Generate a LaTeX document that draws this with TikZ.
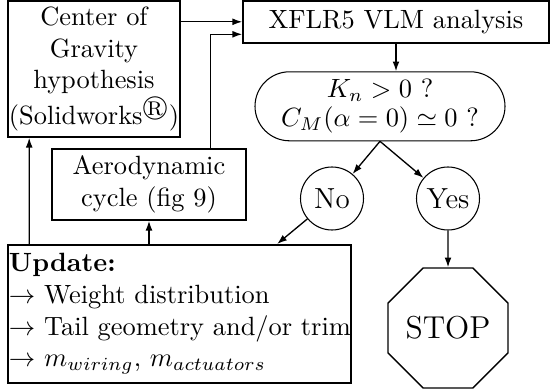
\documentclass[tikz,border=0pt]{standalone}
\usepackage{amssymb}
\usetikzlibrary{shapes.misc,shapes.geometric,arrows.meta,calc}
\newcommand{\pxl}{0.3788pt}
\begin{document}
\begin{tikzpicture}[x=0.3788pt,y=-0.3788pt,
 box/.style={draw,line width=0.6pt,align=center,inner sep=0pt},
 arr/.style={line width=0.5pt,-{Latex[length=3.7pt,width=2.6pt]}},
 ans/.style={draw,circle,line width=0.4pt,minimum size=63*\pxl,inner sep=0pt,font=\fontsize{11}{13}\selectfont}]
\useasboundingbox (0,0) rectangle (550,389);
\node[box,minimum width=172*\pxl,minimum height=136*\pxl] (cog) at (94,69) {Center of\\Gravity\\hypothesis\\(Solidworks$^{\circledR}$)};
\node[box,minimum width=306*\pxl,minimum height=42*\pxl] (xflr) at (396,21.8) {XFLR5 VLM analysis};
\node[box,minimum width=194*\pxl,minimum height=71*\pxl] (aero) at (149,184.5) {Aerodynamic\\cycle (fig 9)};
\node[draw,rounded rectangle,line width=0.4pt,minimum width=250*\pxl,minimum height=69*\pxl,align=center,inner sep=0pt] (dec) at (380,106.3) {$K_n>0$ ?\\[-1pt]$C_M(\alpha=0)\simeq 0$ ?};
\node[ans] (no) at (332,198.5) {No};
\node[ans] (yes) at (448,198.5) {Yes};
\node[draw,regular polygon,regular polygon sides=8,minimum size=110*\pxl,inner sep=0pt,line width=0.5pt,font=\large] (stop) at (448,328) {STOP};
\node[draw,line width=0.6pt,text width=129.2pt,inner xsep=0.38pt,minimum height=138*\pxl,align=left] (upd) at (179.5,314) {\textbf{Update:}\\\mbox{$\rightarrow$ Weight distribution}\\\mbox{$\rightarrow$ Tail geometry and/or trim}\\\mbox{$\rightarrow$ $m_{wiring}$, $m_{actuators}$}};
\draw[arr] (cog.east |- xflr.west) -- (xflr.west);
\draw[arr] ([xshift=-36*\pxl]aero.north east) |- ([yshift=-12.5*\pxl]xflr.west);
\draw[arr] (xflr.south) -- (xflr.south |- dec.north);
\draw[arr] (dec.south) -- (no);
\draw[arr] (dec.south) -- (yes);
\draw[arr] (no) -- ([xshift=270*\pxl]upd.north west);
\draw[arr] (yes) -- (stop);
\draw[arr] (aero.south |- upd.north) -- (aero.south);
\draw[arr] ([xshift=22*\pxl]upd.north west) -- ([xshift=22*\pxl]cog.south west);
\end{tikzpicture}
\end{document}
